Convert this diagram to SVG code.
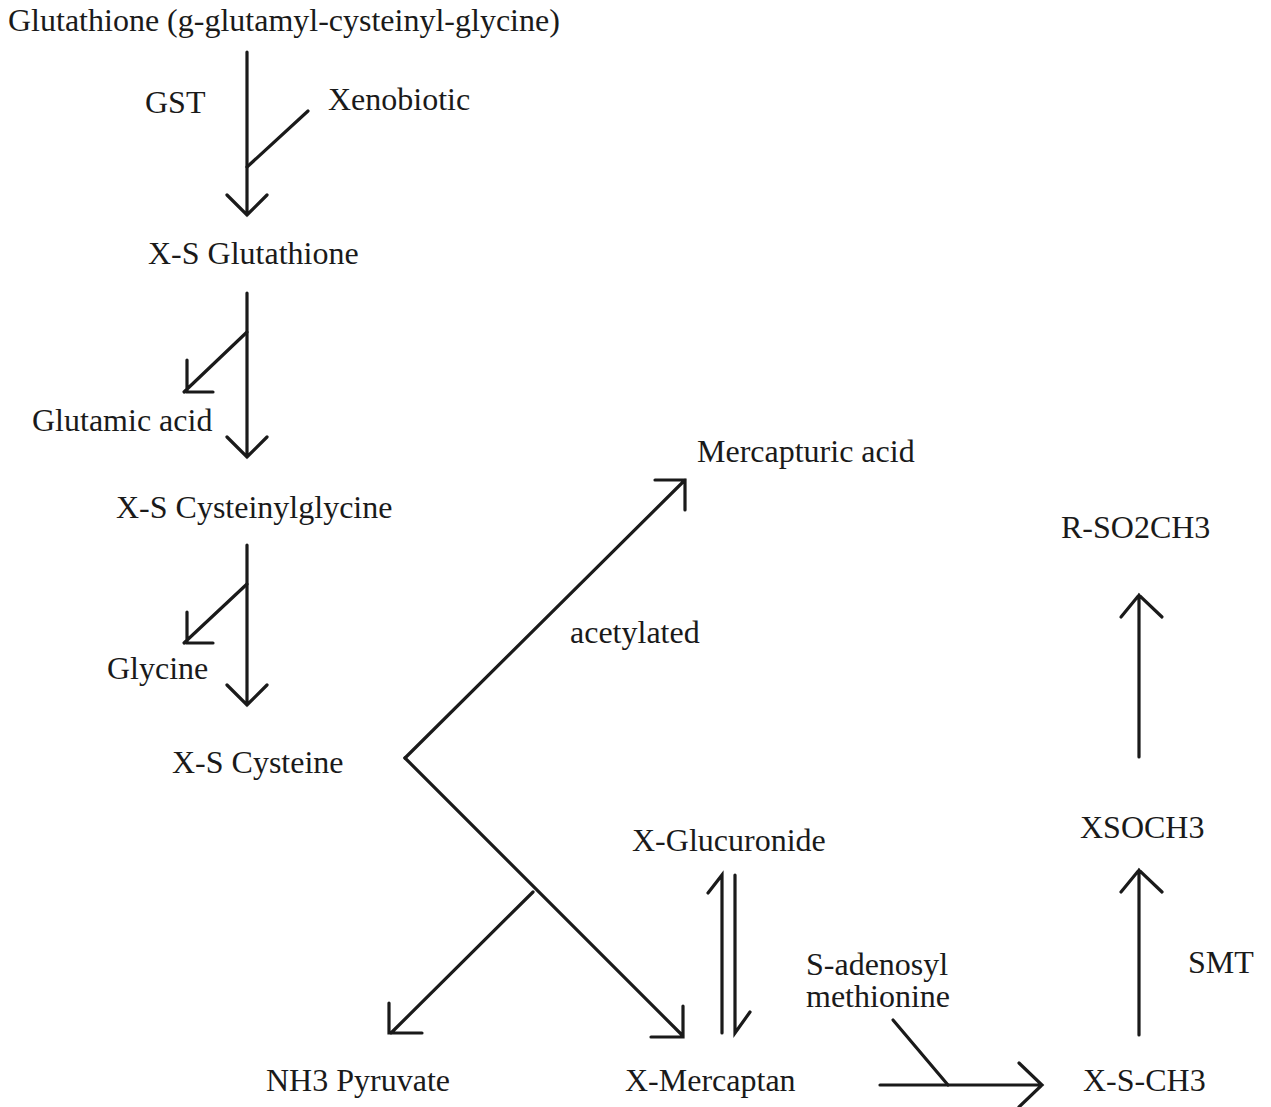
<svg xmlns="http://www.w3.org/2000/svg" width="1271" height="1107" viewBox="0 0 1271 1107">
<style>
text{font-family:"Liberation Serif","Times New Roman",serif;font-size:32px;fill:#1a1a1a}
.c path{fill:none;stroke:#1a1a1a;stroke-width:3.2;stroke-linecap:round;stroke-linejoin:miter}
</style>
<rect width="1271" height="1107" fill="#fff"/>
<g id="glutathione"><text x="8" y="31">Glutathione (g-glutamyl-cysteinyl-glycine)</text></g>
<g id="gst"><text x="145" y="113">GST</text></g>
<g id="xenobiotic"><text x="328" y="110">Xenobiotic</text></g>
<g id="xs-glutathione"><text x="148" y="264">X-S Glutathione</text></g>
<g id="glutamic-acid"><text x="32" y="431">Glutamic acid</text></g>
<g id="xs-cysteinylglycine"><text x="116" y="518">X-S Cysteinylglycine</text></g>
<g id="glycine"><text x="107" y="679">Glycine</text></g>
<g id="xs-cysteine"><text x="172" y="773">X-S Cysteine</text></g>
<g id="mercapturic-acid"><text x="697" y="462">Mercapturic acid</text></g>
<g id="acetylated"><text x="570" y="643">acetylated</text></g>
<g id="r-so2ch3"><text x="1061" y="538">R-SO2CH3</text></g>
<g id="xsoch3"><text x="1080" y="838">XSOCH3</text></g>
<g id="x-glucuronide"><text x="632" y="851">X-Glucuronide</text></g>
<g id="sam"><text x="806" y="975">S-adenosyl</text><text x="806" y="1007">methionine</text></g>
<g id="smt"><text x="1188" y="973">SMT</text></g>
<g id="nh3-pyruvate"><text x="266" y="1091">NH3 Pyruvate</text></g>
<g id="x-mercaptan"><text x="625" y="1091">X-Mercaptan</text></g>
<g id="x-s-ch3"><text x="1083" y="1091">X-S-CH3</text></g>
<g class="c" id="connectors">
<path d="M247 52V215M227 195L247 215L267 195"/>
<path d="M308 111L247 167"/>
<path d="M247 293V457M227 437L247 457L267 437"/>
<path d="M247 332L184 392M187 360V392H213"/>
<path d="M247 545V705M227 685L247 705L267 685"/>
<path d="M247 584L184 643M187 612V643H213"/>
<path d="M405 758L685 480M655 480H685V510"/>
<path d="M405 758L683 1036M651 1037H683V1006"/>
<path d="M533 892L391 1033M389 1003V1033H422"/>
<path d="M722 1033V875L708 893"/>
<path d="M735 875V1033L750 1012"/>
<path d="M880 1085H1042M1019 1063L1042 1085L1019 1107"/>
<path d="M893 1020L948 1085"/>
<path d="M1139 757V595M1121 617L1139 595L1162 617"/>
<path d="M1139 1035V870M1121 892L1139 870L1162 892"/>
</g>
</svg>
